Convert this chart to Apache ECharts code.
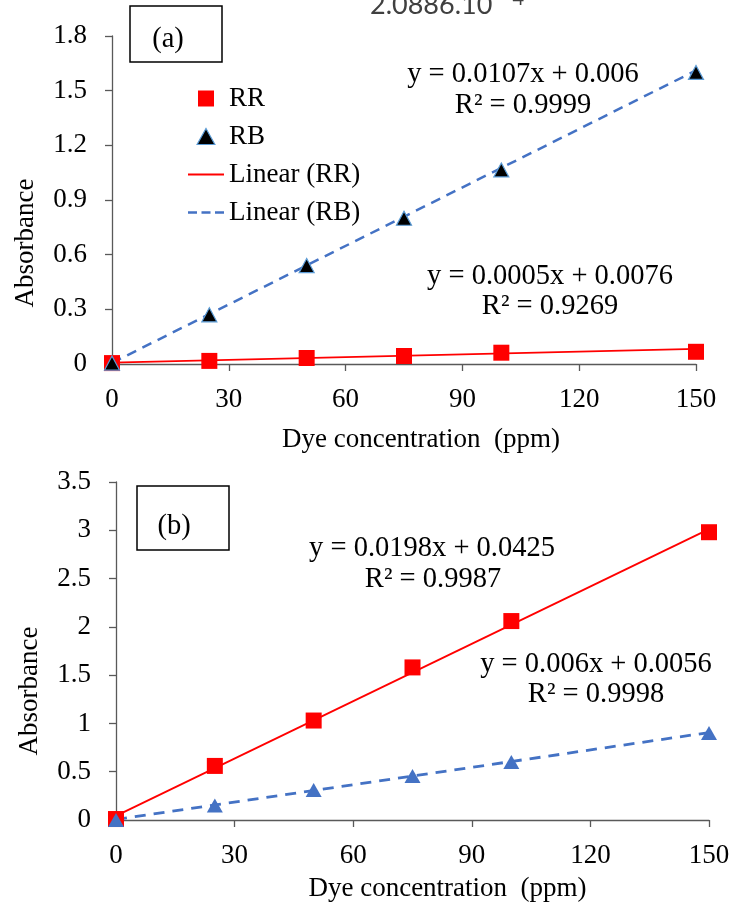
<!DOCTYPE html>
<html>
<head>
<meta charset="utf-8">
<title>Absorbance calibration curves</title>
<script src="https://cdn.jsdelivr.net/npm/echarts@6/dist/echarts.min.js"></script>
<style>
  html, body { margin: 0; padding: 0; background: #fff; }
  #chart { width: 730px; height: 902px; }
</style>
</head>
<body>
<div id="chart"></div>
<script>
// Dye concentrations (ppm)
const concentrations = [0, 25, 50, 75, 100, 150];

// Panel (a) absorbance readings
const rrA = [0.005, 0.017, 0.033, 0.044, 0.062, 0.067];
const rbA = [0.005, 0.27, 0.54, 0.80, 1.065, 1.60];

// Panel (b) absorbance readings
const rrB = [0.01, 0.56, 1.03, 1.58, 2.06, 2.98];
const rbB = [0.0, 0.15, 0.31, 0.455, 0.60, 0.90];

// Linear trendlines [slope, intercept] and R²
const fitRRa = [0.0005, 0.0076], r2RRa = '0.9269';
const fitRBa = [0.0107, 0.006],  r2RBa = '0.9999';
const fitRRb = [0.0198, 0.0425], r2RRb = '0.9987';
const fitRBb = [0.006, 0.0056],  r2RBb = '0.9998';

// Tick labels
const xTickLabels = ['0', '30', '60', '90', '120', '150'];
const yTickLabelsA = ['0', '0.3', '0.6', '0.9', '1.2', '1.5', '1.8'];
const yTickLabelsB = ['0', '0.5', '1', '1.5', '2', '2.5', '3', '3.5'];

const FONT = "'Liberation Serif', 'Times New Roman', serif";
const AXIS_COLOR = '#595959';
const RED = '#ff0000';
const BLUE = '#4472c4';
const FS = 27;
const EQ_FS = 28.5;

// Legend glyphs (paths keep their aspect ratio inside the icon box)
const ICON_SQUARE = 'path://M0,0h10v10h-10z';
const ICON_TRIANGLE = 'path://M5,0L10,9L0,9Z';
const ICON_SOLID = 'path://M0,0h36v1.8h-36z';
const ICON_DASHED = 'path://M0,0h9v2.5h-9zM13.5,0h9v2.5h-9zM27,0h9v2.5h-9z';

const pairs = (ys) => concentrations.map((x, i) => [x, ys[i]]);
const trend = (fit) => [[0, fit[1]], [150, fit[0] * 150 + fit[1]]];
const eqText = (fit) => 'y = ' + fit[0] + 'x + ' + fit[1];

function xAxis(gridIndex, padLeft, nameGap) {
  return {
    type: 'value', gridIndex, min: 0, max: 150, interval: 30,
    name: 'Dye concentration  (ppm)', nameLocation: 'middle', nameGap,
    nameTextStyle: { fontFamily: FONT, fontSize: FS, color: '#000', padding: [0, 0, 0, padLeft] },
    axisLine: { show: true, onZero: false, lineStyle: { color: AXIS_COLOR, width: 1.3 } },
    axisTick: { show: true, length: 7, lineStyle: { color: AXIS_COLOR, width: 1.3 } },
    axisLabel: {
      fontFamily: FONT, fontSize: FS, color: '#000', margin: 22,
      formatter: (v, i) => xTickLabels[i]
    },
    splitLine: { show: false }
  };
}

function yAxis(gridIndex, max, interval, labels, padRight) {
  return {
    type: 'value', gridIndex, min: 0, max, interval,
    name: 'Absorbance', nameLocation: 'middle', nameGap: 73,
    nameTextStyle: { fontFamily: FONT, fontSize: FS, color: '#000', padding: [0, padRight, 0, 0] },
    axisLine: { show: true, lineStyle: { color: AXIS_COLOR, width: 1.3 } },
    axisTick: { show: true, length: 7, lineStyle: { color: AXIS_COLOR, width: 1.3 } },
    axisLabel: {
      fontFamily: FONT, fontSize: FS, color: '#000', margin: 25,
      formatter: (v, i) => labels[i]
    },
    splitLine: { show: false }
  };
}

function eqLabel(x, y, text) {
  return {
    type: 'text', x, y,
    style: { text, fontFamily: FONT, fontSize: EQ_FS, fill: '#000', align: 'center', verticalAlign: 'middle' }
  };
}

function panelBox(x, y, w, h, label, tx, ty) {
  return [
    { type: 'rect', shape: { x, y, width: w, height: h },
      style: { fill: '#fff', stroke: '#000', lineWidth: 1.5 } },
    { type: 'text', x: tx, y: ty,
      style: { text: label, fontFamily: FONT, fontSize: EQ_FS, fill: '#000', align: 'center', verticalAlign: 'middle' } }
  ];
}

const chart = echarts.init(document.getElementById('chart'), null, { renderer: 'canvas' });

chart.setOption({
  backgroundColor: '#fff',
  animation: false,
  grid: [
    { left: 112, top: 36, width: 584, height: 328, outerBoundsMode: 'none' },
    { left: 116, top: 482, width: 593, height: 338, outerBoundsMode: 'none' }
  ],
  xAxis: [xAxis(0, 34, 62), xAxis(1, 70, 55)],
  yAxis: [
    yAxis(0, 1.8, 0.3, yTickLabelsA, 86),
    yAxis(1, 3.5, 0.5, yTickLabelsB, 80)
  ],
  legend: {
    orient: 'vertical', left: 183, top: 80,
    itemWidth: 36, itemHeight: 16, itemGap: 11,
    symbolKeepAspect: true,
    textStyle: { fontFamily: FONT, fontSize: FS, color: '#000' },
    data: [
      { name: 'RR', icon: ICON_SQUARE, itemStyle: { color: RED, borderWidth: 0 } },
      { name: 'RB', icon: ICON_TRIANGLE, itemStyle: { color: '#000', borderColor: '#5b9bd5', borderWidth: 1.2 } },
      { name: 'Linear (RR)', icon: ICON_SOLID, itemStyle: { color: RED, borderWidth: 0 } },
      { name: 'Linear (RB)', icon: ICON_DASHED, itemStyle: { color: BLUE, borderWidth: 0 } }
    ]
  },
  series: [
    // panel (a)
    { name: 'Linear (RR)', type: 'line', xAxisIndex: 0, yAxisIndex: 0, data: trend(fitRRa),
      symbol: 'none', lineStyle: { color: RED, width: 1.8 }, itemStyle: { color: RED }, z: 2 },
    { name: 'Linear (RB)', type: 'line', xAxisIndex: 0, yAxisIndex: 0, data: trend(fitRBa),
      symbol: 'none', lineStyle: { color: BLUE, width: 2.5, type: [10, 7] }, itemStyle: { color: BLUE }, z: 2 },
    { name: 'RR', type: 'scatter', xAxisIndex: 0, yAxisIndex: 0, data: pairs(rrA),
      symbol: 'rect', symbolSize: 16, itemStyle: { color: RED, opacity: 1 }, z: 3 },
    { name: 'RB', type: 'scatter', xAxisIndex: 0, yAxisIndex: 0, data: pairs(rbA),
      symbol: 'triangle', symbolSize: [15, 14],
      itemStyle: { color: '#000', borderColor: '#5b9bd5', borderWidth: 1.2, opacity: 1 }, z: 4 },
    // panel (b)
    { name: 'Linear (RR) b', type: 'line', xAxisIndex: 1, yAxisIndex: 1, data: trend(fitRRb),
      symbol: 'none', lineStyle: { color: RED, width: 1.8 }, z: 2 },
    { name: 'Linear (RB) b', type: 'line', xAxisIndex: 1, yAxisIndex: 1, data: trend(fitRBb),
      symbol: 'none', lineStyle: { color: BLUE, width: 2.8, type: [11, 8] }, z: 2 },
    { name: 'RR b', type: 'scatter', xAxisIndex: 1, yAxisIndex: 1, data: pairs(rrB),
      symbol: 'rect', symbolSize: 16, itemStyle: { color: RED, opacity: 1 }, z: 3 },
    { name: 'RB b', type: 'scatter', xAxisIndex: 1, yAxisIndex: 1, data: pairs(rbB),
      symbol: 'triangle', symbolSize: [16, 14], itemStyle: { color: BLUE, opacity: 1 }, z: 4 }
  ],
  graphic: [
    // stray note at the top edge
    { type: 'text', x: 370, y: 19,
      style: { text: '2.0886.10', fontFamily: 'Lato, sans-serif', fontSize: 27, fill: '#404040', align: 'left', verticalAlign: 'bottom' } },
    { type: 'text', x: 501, y: 9,
      style: { text: '−4', fontFamily: 'Lato, sans-serif', fontSize: 20, fill: '#404040', align: 'left', verticalAlign: 'bottom' } },
    ...panelBox(130, 6, 92, 56, '(a)', 168, 40),
    ...panelBox(137, 486, 92, 64, '(b)', 174, 527),
    eqLabel(523, 75, eqText(fitRBa)),
    eqLabel(523, 106, 'R² = ' + r2RBa),
    eqLabel(550, 277, eqText(fitRRa)),
    eqLabel(550, 307, 'R² = ' + r2RRa),
    eqLabel(432, 549, eqText(fitRRb)),
    eqLabel(433, 580, 'R² = ' + r2RRb),
    eqLabel(596, 665, eqText(fitRBb)),
    eqLabel(596, 695, 'R² = ' + r2RBb)
  ]
});
</script>
</body>
</html>
